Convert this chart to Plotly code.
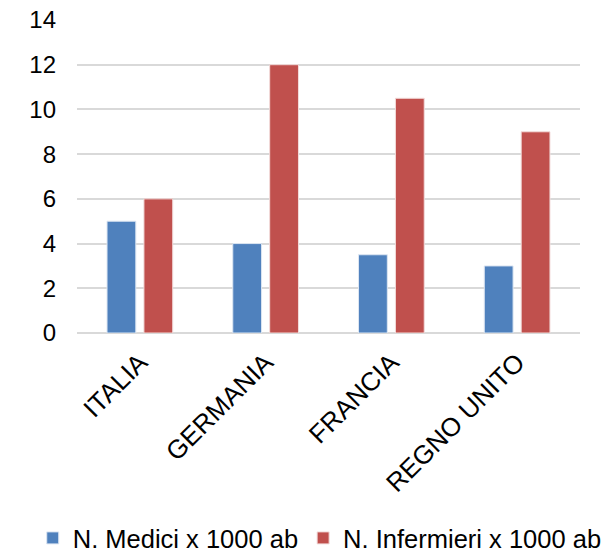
import plotly.graph_objects as go

categories = ["ITALIA", "GERMANIA", "FRANCIA", "REGNO UNITO"]
medici = [5, 4, 3.5, 3]
infermieri = [6, 12, 10.5, 9]
series_names = ["N. Medici x 1000 ab", "N. Infermieri x 1000 ab"]
y_ticks = [0, 2, 4, 6, 8, 10, 12, 14]

fig = go.Figure()
fig.add_trace(go.Bar(x=categories, y=medici, name=series_names[0],
                     marker=dict(color="#4F81BD", line=dict(color="#DCE6F2", width=1))))
fig.add_trace(go.Bar(x=categories, y=infermieri, name=series_names[1],
                     marker=dict(color="#C0504D", line=dict(color="#F2DCDB", width=1))))

fig.update_layout(
    width=611, height=575,
    margin=dict(l=77, r=31, t=20, b=242),
    paper_bgcolor="white", plot_bgcolor="white",
    font=dict(family="Liberation Sans, Arial, sans-serif", size=24, color="black"),
    barmode="group", bargap=0.413, bargroupgap=0.22,
    showlegend=True,
    legend=dict(orientation="h", x=-0.088, xanchor="left", y=-0.656, yanchor="middle",
                font=dict(size=25.5), itemwidth=30, tracegroupgap=0,
                bgcolor="rgba(0,0,0,0)"),
    xaxis=dict(tickangle=-45, showgrid=False, showline=False, ticks="",
               tickfont=dict(size=26), ticklabelstandoff=8, automargin=False),
    yaxis=dict(range=[0, 14], tickvals=y_ticks, showgrid=True, gridcolor="#D9D9D9",
               gridwidth=1.5, zeroline=True, zerolinecolor="#D9D9D9", zerolinewidth=1.5,
               showline=False, ticks="", tickfont=dict(size=24), ticklabelstandoff=20,
               automargin=False, ticklabeloverflow="allow"),
)

fig.write_html(
    "out.html",
    config={"displayModeBar": False},
    post_script="document.body.style.margin='0';document.body.style.overflow='hidden';",
)
